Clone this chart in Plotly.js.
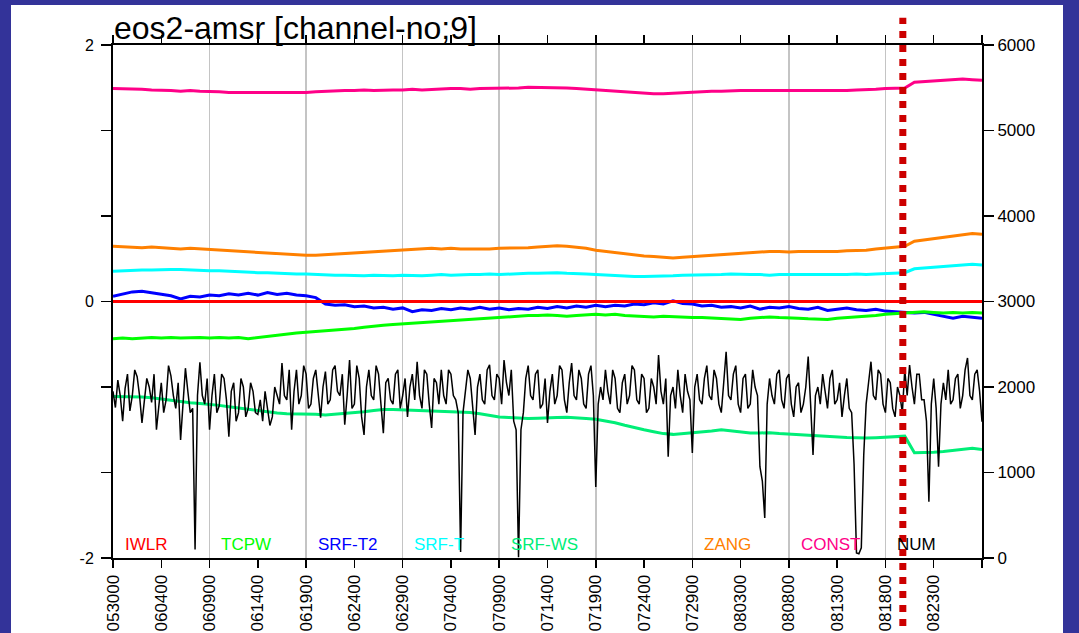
<!DOCTYPE html>
<html><head><meta charset="utf-8">
<script src="https://cdn.plot.ly/plotly-3.0.1.min.js"></script>
<style>
html,body{margin:0;padding:0;background:#333399;width:1079px;height:633px;overflow:hidden}
#panel{position:absolute;left:11px;top:5px;width:1052px;height:628px;background:#ffffff}
#chart{width:1052px;height:628px}
</style></head><body><div id="panel"><div id="chart"></div></div>
<script>
// x tick labels (MMDDHH), every 5 days starting 2006-05-30 00Z
const tickDays = [0,5,10,15,20,25,30,35,40,45,50,55,60,65,70,75,80,85,90];
const tickLabels = ['053000','060400','060900','061400','061900','062400','062900','070400','070900','071400','071900','072400','072900','080300','080800','081300','081800','082300',''];
const gridDays = [10,20,30,40,50,60,70,80];
const cutoverDay = 81.8;

// legend labels drawn inside the plot
const legendNames = ['IWLR','TCPW','SRF-T2','SRF-T','SRF-WS','ZANG','CONST','NUM'];
const legendColors = ['#ff0000','#00ff00','#0000ff','#00ffff','#00ee77','#ff8000','#ff0088','#000000'];
const legendSlots = [0,1,2,3,4,6,7,8];

// daily predictor coefficients (left axis)
const constC = [1.66,1.66,1.655,1.655,1.65,1.65,1.645,1.64,1.645,1.64,1.64,1.635,1.63,1.63,1.625,1.625,1.625,1.63,1.625,1.63,1.63,1.635,1.64,1.64,1.645,1.645,1.65,1.645,1.65,1.65,1.65,1.655,1.65,1.655,1.655,1.66,1.66,1.655,1.66,1.66,1.66,1.665,1.665,1.67,1.67,1.67,1.67,1.665,1.66,1.655,1.65,1.64,1.635,1.63,1.625,1.62,1.62,1.62,1.625,1.625,1.63,1.635,1.64,1.64,1.645,1.645,1.645,1.645,1.64,1.645,1.645,1.645,1.64,1.645,1.645,1.645,1.645,1.65,1.65,1.655,1.66,1.66,1.665,1.71,1.715,1.72,1.725,1.73,1.735,1.73,1.725];
const zang = [0.43,0.425,0.42,0.42,0.425,0.42,0.415,0.41,0.415,0.41,0.405,0.40,0.395,0.39,0.385,0.38,0.375,0.37,0.365,0.36,0.36,0.36,0.365,0.365,0.37,0.375,0.385,0.39,0.395,0.40,0.40,0.405,0.41,0.415,0.41,0.415,0.41,0.41,0.405,0.41,0.415,0.415,0.42,0.42,0.425,0.43,0.435,0.43,0.425,0.415,0.40,0.39,0.38,0.37,0.36,0.355,0.35,0.345,0.34,0.345,0.35,0.355,0.36,0.37,0.375,0.38,0.385,0.385,0.39,0.39,0.385,0.39,0.39,0.385,0.39,0.39,0.395,0.395,0.40,0.41,0.415,0.42,0.43,0.47,0.48,0.49,0.50,0.51,0.52,0.53,0.525];
const srfT = [0.235,0.24,0.24,0.245,0.245,0.25,0.25,0.25,0.245,0.245,0.24,0.24,0.235,0.235,0.23,0.225,0.225,0.22,0.22,0.215,0.215,0.21,0.21,0.205,0.205,0.20,0.20,0.205,0.20,0.20,0.205,0.20,0.20,0.205,0.21,0.205,0.21,0.21,0.21,0.215,0.21,0.215,0.215,0.22,0.22,0.225,0.225,0.22,0.22,0.215,0.21,0.205,0.20,0.20,0.195,0.195,0.195,0.20,0.20,0.205,0.205,0.21,0.21,0.21,0.215,0.21,0.21,0.21,0.205,0.21,0.21,0.205,0.21,0.205,0.21,0.21,0.21,0.215,0.21,0.215,0.22,0.22,0.225,0.255,0.26,0.265,0.27,0.275,0.285,0.29,0.285];
const srfT2 = [0.04,0.06,0.075,0.08,0.07,0.06,0.045,0.02,0.04,0.035,0.05,0.045,0.06,0.05,0.065,0.05,0.07,0.055,0.065,0.05,0.045,0.03,-0.02,-0.03,-0.025,-0.04,-0.035,-0.05,-0.045,-0.06,-0.05,-0.08,-0.065,-0.07,-0.055,-0.065,-0.05,-0.06,-0.045,-0.06,-0.05,-0.065,-0.055,-0.06,-0.045,-0.055,-0.04,-0.05,-0.035,-0.045,-0.03,-0.04,-0.03,-0.035,-0.02,-0.025,-0.01,-0.02,0.005,-0.015,-0.02,-0.035,-0.03,-0.045,-0.04,-0.05,-0.035,-0.06,-0.045,-0.05,-0.04,-0.055,-0.06,-0.045,-0.07,-0.06,-0.05,-0.065,-0.07,-0.06,-0.075,-0.08,-0.085,-0.09,-0.085,-0.1,-0.11,-0.13,-0.115,-0.12,-0.13];
const tcpw = [-0.29,-0.285,-0.29,-0.285,-0.28,-0.285,-0.28,-0.285,-0.28,-0.28,-0.285,-0.28,-0.285,-0.28,-0.29,-0.28,-0.27,-0.26,-0.25,-0.245,-0.24,-0.235,-0.23,-0.225,-0.215,-0.21,-0.2,-0.19,-0.185,-0.18,-0.175,-0.17,-0.165,-0.16,-0.15,-0.145,-0.14,-0.135,-0.13,-0.125,-0.12,-0.12,-0.115,-0.11,-0.11,-0.105,-0.11,-0.115,-0.11,-0.105,-0.1,-0.105,-0.1,-0.11,-0.115,-0.115,-0.12,-0.115,-0.12,-0.12,-0.125,-0.125,-0.13,-0.135,-0.14,-0.14,-0.13,-0.125,-0.12,-0.125,-0.125,-0.13,-0.135,-0.14,-0.14,-0.13,-0.125,-0.12,-0.12,-0.11,-0.1,-0.095,-0.09,-0.085,-0.08,-0.085,-0.09,-0.085,-0.09,-0.085,-0.09];
const srfWS = [-0.74,-0.74,-0.745,-0.745,-0.75,-0.76,-0.775,-0.785,-0.79,-0.795,-0.8,-0.81,-0.82,-0.83,-0.845,-0.855,-0.865,-0.87,-0.875,-0.875,-0.877,-0.88,-0.885,-0.88,-0.875,-0.865,-0.86,-0.85,-0.842,-0.842,-0.845,-0.846,-0.85,-0.85,-0.855,-0.855,-0.86,-0.865,-0.875,-0.89,-0.9,-0.905,-0.91,-0.912,-0.91,-0.905,-0.905,-0.902,-0.905,-0.912,-0.918,-0.93,-0.945,-0.965,-0.985,-1.0,-1.015,-1.03,-1.036,-1.03,-1.025,-1.02,-1.01,-1.0,-1.01,-1.02,-1.025,-1.025,-1.023,-1.03,-1.035,-1.04,-1.045,-1.05,-1.055,-1.058,-1.06,-1.062,-1.065,-1.062,-1.058,-1.055,-1.05,-1.18,-1.18,-1.175,-1.17,-1.16,-1.15,-1.145,-1.155];
const iwlrDays = [0, 90];
const iwlr = [0, 0];

// 6-hourly observation count (right axis)
const num = [
1950,1760,2080,1900,1600,1980,2150,1720,1900,2200,2120,1900,1580,1850,2100,2000,1820,2150,1500,1780,
2050,1700,1850,2250,2130,1900,1750,2050,1380,1800,2220,1950,1700,1750,100,1900,2290,1900,1800,2100,
1500,1900,2150,1700,1780,2150,2100,1850,1420,1950,2050,1600,1700,2100,2000,1650,1750,2050,1950,1700,
1680,1850,1600,1950,1750,1550,1650,2000,1900,1800,2280,1900,1850,2200,1500,1950,2200,1800,1900,2250,
2150,1750,1800,2100,2200,1900,1640,2000,2180,1800,1850,2200,2250,1950,1900,2150,1560,1900,2316,1750,
1800,2250,2100,1650,1440,2000,2200,1900,1850,2250,2150,1800,1460,2050,2100,1850,1800,2150,2200,1750,
1900,2100,1650,2000,2150,1850,2296,1900,1750,2200,2150,1800,1520,2100,2050,1800,2200,1900,1800,2200,
2150,1900,1850,1700,70,1700,1950,2200,2100,1800,1440,2000,2150,1850,1800,2200,2260,1900,1850,2150,
2100,1800,2316,2050,1900,2200,1600,1500,10,1500,1700,2100,2250,1900,1850,2150,2200,1750,1800,2100,
1580,1950,2150,1800,1900,2250,2200,1850,1700,2050,2280,1900,1850,2200,2100,1800,1750,2150,2250,1900,
830,1800,2000,1850,2200,1950,1800,2200,2100,1750,1700,2050,2150,1800,1900,2250,2200,1850,1800,2150,
2100,1700,1750,2100,2000,1800,2374,1950,1800,2100,1185,1900,2000,1750,2200,1900,1700,2150,1950,1850,
1228,2000,2150,1850,1800,2100,2250,1900,1850,2200,2100,1800,1700,2050,2413,1900,1850,2150,2250,1800,
1700,2100,2150,1750,1800,2200,2000,1900,1068,900,468,1800,2100,1900,1800,2150,2200,1850,1750,2100,
2150,1800,1650,2000,2050,1700,1800,2000,2355,1800,1205,1900,2000,1800,2150,1950,1750,2100,2200,1800,
1850,2050,1650,1900,2100,1750,1700,1100,60,50,120,1200,1800,2050,2296,1900,1850,2200,2150,1800,
1700,2100,2050,1750,1650,2000,1900,1700,2200,1900,2257,2000,1800,2150,2150,1850,1850,1600,659,1800,
2100,1750,1068,1800,2050,1850,2200,1800,1850,2100,2150,1750,1900,2200,2340,1900,1850,2150,2200,1950,
1594];

const dailyDays = constC.map((_, i) => i);
const numDays = num.map((_, i) => i * 0.25);

const FONT = 'Liberation Sans, Arial, Helvetica, sans-serif';
function line(y, color, width, x) {
  return {x: x || dailyDays, y: y, type: 'scatter', mode: 'lines',
          line: {color: color, width: width}, hoverinfo: 'skip', showlegend: false};
}
const traces = [
  line(constC, '#ff0088', 3),
  line(zang, '#ff8000', 3),
  line(srfT, '#00ffff', 3),
  line(srfWS, '#00ee77', 3),
  line(srfT2, '#0000ff', 3),
  line(tcpw, '#00ff00', 3),
  line(iwlr, '#ff0000', 3, iwlrDays),
  Object.assign(line(num, '#000000', 1.5, numDays), {xaxis: 'x2', yaxis: 'y2'})
];

const annotations = legendNames.map((n, i) => ({
  text: n, xref: 'paper', yref: 'paper',
  x: (legendSlots[i] * 10 + 1) / 90, y: 0, xanchor: 'left', yanchor: 'bottom', yshift: 2,
  showarrow: false, font: {family: FONT, size: 17, color: legendColors[i]}
}));

const layout = {
  width: 1052, height: 628,
  margin: {l: 102, r: 81, t: 40, b: 75},
  paper_bgcolor: '#ffffff', plot_bgcolor: '#ffffff',
  font: {family: FONT, color: '#000000', size: 17},
  title: {text: 'eos2-amsr [channel-no;9]', font: {family: FONT, size: 32, color: '#000'},
          x: 0, xref: 'paper', xanchor: 'left', y: 0.982, yref: 'container', yanchor: 'top', pad: {l: 1}},
  showlegend: false,
  xaxis: {range: [0, 90], tickmode: 'array', tickvals: tickDays, ticktext: tickLabels,
          tickangle: -90, ticks: 'outside', ticklen: 8, tickwidth: 1.5, tickcolor: '#000',
          showgrid: false, zeroline: false, showline: true, linecolor: '#000', linewidth: 2,
          mirror: 'ticks', tickfont: {family: FONT, size: 17}},
  xaxis2: {range: [0, 90], overlaying: 'x', tickmode: 'array', tickvals: gridDays,
           showgrid: true, gridcolor: '#c4c4c4', gridwidth: 1.5, showticklabels: false,
           ticks: '', zeroline: false, showline: false},
  yaxis: {range: [-2, 2], tickmode: 'array',
          tickvals: [-2, -4/3, -2/3, 0, 2/3, 4/3, 2], ticktext: ['-2','','','0','','','2'],
          ticks: 'outside', ticklen: 10, tickwidth: 1.5, tickcolor: '#000',
          showgrid: false, zeroline: false, showline: true, linecolor: '#000', linewidth: 2,
          mirror: true, ticklabelstandoff: 4, tickfont: {family: FONT, size: 16}},
  yaxis2: {range: [0, 6000], overlaying: 'y', side: 'right', anchor: 'x2', dtick: 1000,
           ticks: 'outside', ticklen: 10, tickwidth: 1.5, tickcolor: '#000',
           showgrid: false, zeroline: false, showline: true, linecolor: '#000', linewidth: 2,
           tickfont: {family: FONT, size: 17}},
  shapes: [{type: 'line', xref: 'paper', yref: 'paper', x0: cutoverDay / 90, x1: cutoverDay / 90,
            y0: -0.16, y1: 1.053, line: {color: '#cc0000', width: 7, dash: 'dot'}, layer: 'above'}],
  annotations: annotations
};

Plotly.newPlot('chart', traces, layout, {displayModeBar: false, staticPlot: true});
</script></body></html>
